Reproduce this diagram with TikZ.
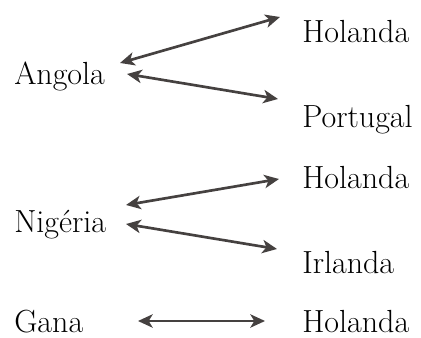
\documentclass[tikz,border=0pt]{standalone}
\usetikzlibrary{arrows.meta}
\definecolor{arr}{HTML}{454140}
\begin{document}
\begin{tikzpicture}[x=0.75pt,y=-0.75pt,
  lbl/.style={anchor=base west,inner sep=0pt,font=\fontsize{24}{28}\selectfont},
  link/.style={draw=arr,line width=2pt,{Stealth[length=11pt,width=10pt,inset=3pt]}-{Stealth[length=11pt,width=10pt,inset=3pt]}}]
\useasboundingbox (0,0) rectangle (421,338);
\node[lbl] (ang) at (14,85) {Angola};
\node[lbl] (hol1) at (302,43) {Holanda};
\node[lbl] (por) at (302,128) {Portugal};
\node[lbl] (nig) at (14,233) {Nigéria};
\node[lbl] (hol2) at (302,189) {Holanda};
\node[lbl] (irl) at (302,274) {Irlanda};
\node[lbl] (gan) at (14,332) {Gana};
\node[lbl] (hol3) at (302,332) {Holanda};
\coordinate (a1) at (120,63); \coordinate (b1) at (280,17);
\coordinate (a2) at (127,74); \coordinate (b2) at (278,99);
\coordinate (a3) at (126,205); \coordinate (b3) at (279,179);
\coordinate (a4) at (126,224); \coordinate (b4) at (277,249);
\coordinate (a5) at (138,321); \coordinate (b5) at (265,321);
\draw[link] (a1) -- (b1);
\draw[link] (a2) -- (b2);
\draw[link] (a3) -- (b3);
\draw[link] (a4) -- (b4);
\draw[link] (a5) -- (b5);
\end{tikzpicture}
\end{document}
